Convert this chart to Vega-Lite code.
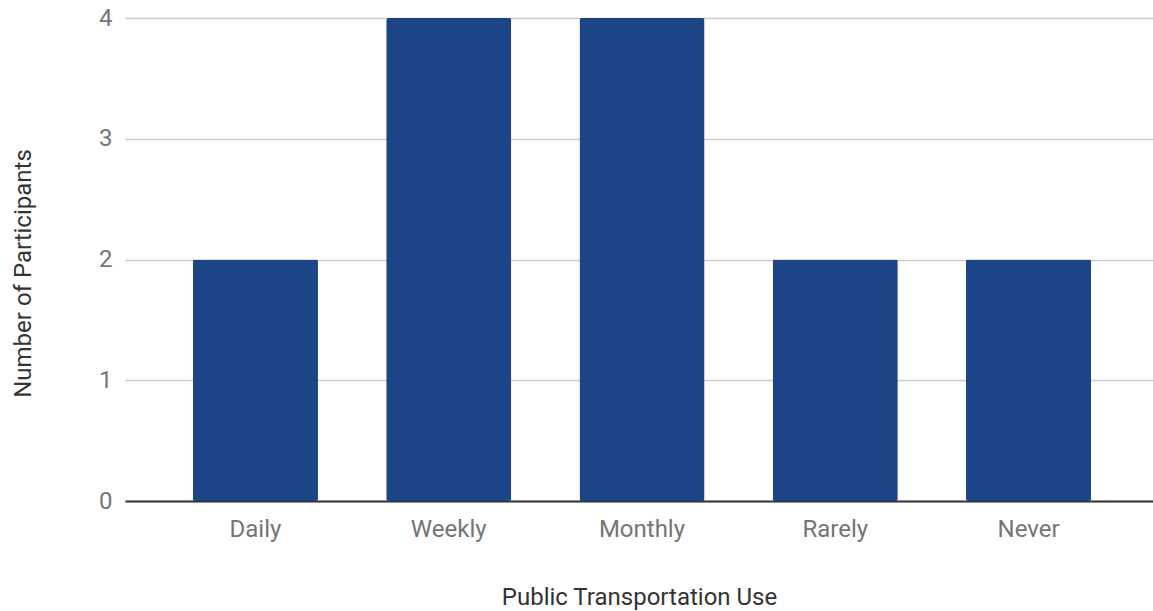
{
  "$schema": "https://vega.github.io/schema/vega-lite/v6.json",
  "width": 1028,
  "height": 483,
  "autosize": {"type": "none"},
  "padding": {"left": 125, "top": 18, "right": 0, "bottom": 110},
  "background": "#ffffff",
  "config": {
    "font": "Roboto",
    "view": {"stroke": null}
  },
  "data": {
    "values": [
      {"use": "Daily", "participants": 2},
      {"use": "Weekly", "participants": 4},
      {"use": "Monthly", "participants": 4},
      {"use": "Rarely", "participants": 2},
      {"use": "Never", "participants": 2}
    ]
  },
  "mark": {"type": "bar", "color": "#1c4587", "cornerRadius": 2},
  "encoding": {
    "x": {
      "field": "use",
      "type": "nominal",
      "sort": null,
      "scale": {"paddingInner": 0.353, "paddingOuter": 0.336, "align": 0.523},
      "axis": {
        "title": "Public Transportation Use",
        "labelAngle": 0,
        "labelFont": "Roboto",
        "labelFontSize": 24,
        "labelColor": "#757575",
        "labelPadding": 16,
        "ticks": false,
        "domainColor": "#333333",
        "domainWidth": 2,
        "titleFont": "Roboto",
        "titleFontSize": 24,
        "titleFontWeight": "normal",
        "titleColor": "#333333",
        "titleY": 96,
        "titleBaseline": "middle"
      }
    },
    "y": {
      "field": "participants",
      "type": "quantitative",
      "scale": {"domain": [0, 4]},
      "axis": {
        "title": "Number of Participants",
        "values": [0, 1, 2, 3, 4],
        "format": "d",
        "labelFont": "Roboto",
        "labelFontSize": 24,
        "labelColor": "#757575",
        "labelPadding": 13,
        "ticks": false,
        "domain": false,
        "gridColor": "#cccccc",
        "gridWidth": 1.5,
        "titleFont": "Roboto",
        "titleFontSize": 24,
        "titleFontWeight": "normal",
        "titleColor": "#333333",
        "titleX": -102,
        "titleY": 255,
        "titleAngle": -90,
        "titleAlign": "center",
        "titleBaseline": "middle"
      }
    }
  }
}
